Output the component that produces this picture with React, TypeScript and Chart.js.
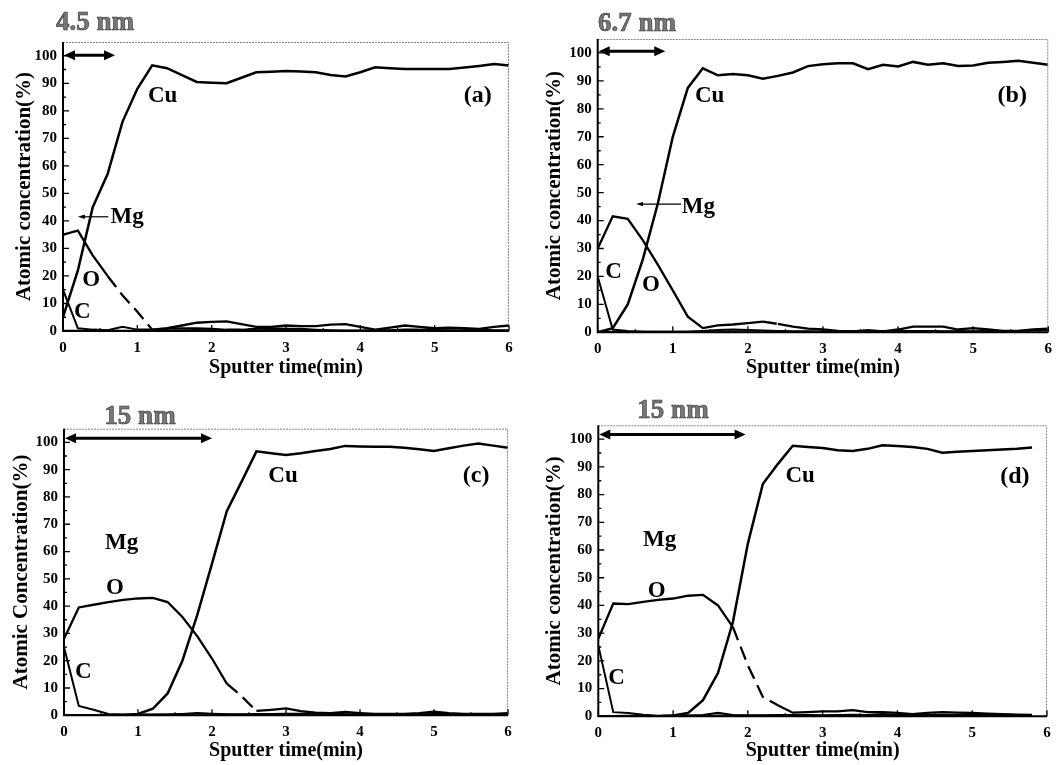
import React, { useEffect, useRef } from 'react';
import { Chart, registerables } from 'chart.js';

Chart.register(...registerables);

// Sputter time (min), sampled every 0.2 min
const TIMES = [0, 0.2, 0.4, 0.6, 0.8, 1.0, 1.2, 1.4, 1.6, 1.8, 2.0, 2.2, 2.4, 2.6, 2.8, 3.0,
  3.2, 3.4, 3.6, 3.8, 4.0, 4.2, 4.4, 4.6, 4.8, 5.0, 5.2, 5.4, 5.6, 5.8, 6.0];

// Panel (a) – 4.5 nm
const A_CU = [5, 22, 45, 57, 76, 88, 96.5, 95.5, 93, 90.5, 90.2, 90, 92, 94, 94.2, 94.5, 94.3, 94, 93, 92.5, 94, 95.8, 95.5, 95.2, 95.2, 95.2, 95.2, 95.7, 96.3, 97, 96.5];
const A_O = [35, 36.5, 27.5, 20, 13, 7, 0.5, 1, 2, 3, 3.3, 3.5, 2.5, 1.5, 1.5, 2, 1.8, 1.8, 2.3, 2.5, 1.5, 0.5, 1.2, 2, 1.5, 1, 1.2, 1, 0.8, 1.5, 2];
const A_C = [15, 1, 0.5, 0.3, 1.5, 0.5, 0.5, 0.8, 1, 1, 0.8, 0.5, 0.5, 0.8, 1, 0.8, 0.8, 0.5, 0.3, 0.2, 0.2, 0.3, 0.3, 0.5, 0.5, 0.8, 1, 0.8, 0.5, 0.3, 0.3];
const A_MG = [0.2, 0.2, 0.2, 0.3, 0.2, 0.2, 0.3, 0.3, 0.4, 0.5, 0.4, 0.3, 0.3, 0.4, 0.5, 0.5, 0.4, 0.3, 0.2, 0.2, 0.2, 0.3, 0.3, 0.4, 0.5, 0.5, 0.4, 0.3, 0.3, 0.2, 0.2];

// Panel (b) – 6.7 nm
const B_CU = [0, 1.5, 10, 26, 46, 70, 87.5, 94.5, 92, 92.5, 92, 90.8, 91.8, 93, 95.3, 96, 96.3, 96.3, 94.2, 95.8, 95.2, 96.8, 95.8, 96.3, 95.3, 95.5, 96.5, 96.8, 97.2, 96.5, 95.8];
const B_O = [30, 41.5, 40.6, 33, 24.2, 15, 5.6, 1.5, 2.5, 2.8, 3.3, 3.8, 3, 2, 1.3, 1, 0.5, 0.3, 0.8, 0.3, 1, 2, 2, 2, 1, 1.5, 1, 0.5, 0.5, 1, 1.3];
const B_C = [20, 1, 0.5, 0.3, 0.2, 0.2, 0.3, 0.5, 0.8, 1, 0.8, 0.6, 0.5, 0.4, 0.4, 0.3, 0.3, 0.4, 0.4, 0.5, 0.5, 0.5, 0.5, 0.4, 0.4, 0.4, 0.5, 0.5, 0.5, 0.8, 1];
const B_MG = [0.3, 0.3, 0.2, 0.2, 0.3, 0.3, 0.2, 0.3, 0.4, 0.4, 0.5, 0.5, 0.4, 0.3, 0.3, 0.2, 0.2, 0.3, 0.3, 0.4, 0.4, 0.3, 0.3, 0.3, 0.4, 0.4, 0.3, 0.3, 0.4, 0.5, 0.6];

// Panel (c) – 15 nm
const C_CU = [0, 0, 0, 0, 0, 0.5, 2.4, 8, 20, 36.7, 55.6, 74.8, 85.6, 96.7, 96, 95.4, 96, 96.8, 97.6, 98.7, 98.5, 98.4, 98.4, 98, 97.5, 96.8, 97.8, 98.8, 99.6, 98.8, 98];
const C_O = [28, 39.5, 40.5, 41.5, 42.3, 42.8, 43, 41.5, 36, 29, 20.8, 11.6, 7, 1.6, 2, 2.5, 1.5, 1, 0.8, 1.2, 0.8, 0.5, 0.5, 0.5, 0.8, 1.3, 0.8, 0.5, 0.5, 0.5, 0.8];
const C_C = [25, 3.4, 2, 0.5, 0.3, 0.3, 0.3, 0.3, 0.5, 0.8, 0.6, 0.4, 0.4, 0.5, 0.5, 0.6, 0.6, 0.8, 0.6, 0.4, 0.3, 0.3, 0.3, 0.4, 0.4, 0.5, 0.5, 0.4, 0.3, 0.3, 0.3];
const C_MG = [0.2, 0.2, 0.2, 0.2, 0.3, 0.3, 0.3, 0.4, 0.5, 0.6, 0.5, 0.4, 0.3, 0.3, 0.3, 0.3, 0.4, 0.5, 0.4, 0.3, 0.3, 0.2, 0.2, 0.3, 0.3, 0.3, 0.2, 0.2, 0.2, 0.3, 0.3];

// Panel (d) – 15 nm
const D_CU = [0, 0, 0, 0, 0, 0.3, 1.2, 5.8, 15.6, 34, 62.3, 83.8, 91, 97.6, 97.2, 96.8, 96, 95.7, 96.5, 97.8, 97.5, 97.2, 96.5, 95.1, 95.5, 95.7, 96, 96.3, 96.5, 97, null];
const D_O = [28, 40.7, 40.5, 41.3, 42, 42.5, 43.5, 43.8, 40, 32.2, 18.4, 7, 4, 1.3, 1.5, 1.8, 1.8, 2.2, 1.5, 1.5, 1.2, 0.8, 1.2, 1.5, 1.3, 1.2, 1, 0.8, 0.6, 0.5, null];
const D_C = [25.6, 1.5, 1.2, 0.6, 0.2, 0.3, 0.3, 0.5, 1.3, 0.5, 0.4, 0.4, 0.5, 0.5, 0.5, 0.4, 0.5, 0.6, 0.5, 0.8, 0.6, 0.5, 0.5, 0.6, 0.6, 0.8, 0.6, 0.5, 0.4, 0.4, null];
const D_MG = [0.2, 0.2, 0.3, 0.3, 0.2, 0.2, 0.3, 0.3, 0.4, 0.4, 0.3, 0.3, 0.4, 0.5, 0.4, 0.3, 0.3, 0.3, 0.4, 0.4, 0.3, 0.3, 0.3, 0.4, 0.4, 0.3, 0.3, 0.3, 0.2, 0.2, null];

const Y_MAJOR = [0, 10, 20, 30, 40, 50, 60, 70, 80, 90, 100];
const Y_MINOR = [5, 15, 25, 35, 45, 55, 65, 75, 85, 95];
const X_MAJOR = [0, 1, 2, 3, 4, 5, 6];
const X_MINOR = [0.5, 1.5, 2.5, 3.5, 4.5, 5.5];

const SERIF = '"Liberation Serif", "Times New Roman", serif';

type Label = { text: string; x: number; y: number; align?: CanvasTextAlign };
// dashIdx: data-index range [from, to] drawn dashed
type Series = { values: (number | null)[]; width: number; dashIdx?: [number, number] };
type PanelCfg = {
  pos: [number, number, number, number];
  area: { l: number; r: number; t: number; b: number };
  series: Series[];
  yTitle: string;
  yTitlePad: number;
  labels: Label[];
  tag: Label;
  span: { x0: number; x1: number; y: number };
  thick: { text: string; px: number; py: number; align: CanvasTextAlign };
  pointer?: { x0: number; x1: number; y: number };
};

const PANELS: PanelCfg[] = [
  {
    pos: [0, 0, 530, 382],
    area: { l: 63, r: 509, t: 42, b: 331 },
    series: [
      { values: A_CU, width: 2.5 },
      { values: A_O, width: 2.3, dashIdx: [3, 6] },
      { values: A_C, width: 2 },
      { values: A_MG, width: 1.3 },
    ],
    yTitle: 'Atomic concentration(%)',
    yTitlePad: 12,
    labels: [
      { text: 'Cu', x: 1.34, y: 85.3 },
      { text: 'Mg', x: 0.64, y: 41.5, align: 'left' },
      { text: 'O', x: 0.38, y: 18.5 },
      { text: 'C', x: 0.26, y: 7 },
    ],
    tag: { text: '(a)', x: 5.58, y: 85.3 },
    span: { x0: 0, x1: 0.7, y: 100.2 },
    thick: { text: '4.5 nm', px: 56, py: 30, align: 'left' },
    pointer: { x0: 0.61, x1: 0.2, y: 41.5 },
  },
  {
    pos: [530, 0, 530, 382],
    area: { l: 67.7, r: 521.7, t: 39, b: 332.3 },
    series: [
      { values: B_CU, width: 2.5 },
      { values: B_O, width: 2.3, dashIdx: [11, 12] },
      { values: B_C, width: 2 },
      { values: B_MG, width: 1.3 },
    ],
    yTitle: 'Atomic concentration(%)',
    yTitlePad: 12,
    labels: [
      { text: 'Cu', x: 1.49, y: 84.5 },
      { text: 'Mg', x: 1.12, y: 45, align: 'left' },
      { text: 'O', x: 0.71, y: 17 },
      { text: 'C', x: 0.21, y: 21.7 },
    ],
    tag: { text: '(b)', x: 5.52, y: 84.5 },
    span: { x0: 0, x1: 0.9, y: 100.6 },
    thick: { text: '6.7 nm', px: 68, py: 31, align: 'left' },
    pointer: { x0: 1.11, x1: 0.51, y: 45.9 },
  },
  {
    pos: [0, 382, 530, 383],
    area: { l: 64, r: 508, t: 46.7, b: 333.3 },
    series: [
      { values: C_CU, width: 2.5 },
      { values: C_O, width: 2.3, dashIdx: [11, 13] },
      { values: C_C, width: 2 },
      { values: C_MG, width: 1.3 },
    ],
    yTitle: 'Atomic Concentration(%)',
    yTitlePad: 9,
    labels: [
      { text: 'Cu', x: 2.96, y: 87.8 },
      { text: 'Mg', x: 0.78, y: 63.2 },
      { text: 'O', x: 0.69, y: 46.5 },
      { text: 'C', x: 0.26, y: 15.9 },
    ],
    tag: { text: '(c)', x: 5.57, y: 87.8 },
    span: { x0: 0, x1: 2.0, y: 101.5 },
    thick: { text: '15 nm', px: 140, py: 42, align: 'center' },
  },
  {
    pos: [530, 382, 530, 383],
    area: { l: 68.3, r: 517, t: 43.3, b: 334.3 },
    series: [
      { values: D_CU, width: 2.5 },
      { values: D_O, width: 2.3, dashIdx: [9, 12] },
      { values: D_C, width: 2 },
      { values: D_MG, width: 1.3 },
    ],
    yTitle: 'Atomic concentration(%)',
    yTitlePad: 12,
    labels: [
      { text: 'Cu', x: 2.7, y: 86.8 },
      { text: 'Mg', x: 0.82, y: 63.5 },
      { text: 'O', x: 0.78, y: 45.1 },
      { text: 'C', x: 0.245, y: 13.8 },
    ],
    tag: { text: '(d)', x: 5.57, y: 86.5 },
    span: { x0: 0, x1: 1.97, y: 101.7 },
    thick: { text: '15 nm', px: 143, py: 36, align: 'center' },
  },
];

function makeDeco(cfg: PanelCfg) {
  return {
    id: 'deco',
    afterDraw(chart: any) {
      const { ctx, chartArea: ca, scales } = chart;
      const xs = scales.x;
      const ys = scales.y;
      const X = (v: number) => xs.getPixelForValue(v);
      const Y = (v: number) => ys.getPixelForValue(v);
      ctx.save();

      // frame: top/right faint dotted, left/bottom solid
      ctx.strokeStyle = '#888';
      ctx.lineWidth = 1;
      ctx.setLineDash([2, 1]);
      ctx.beginPath();
      ctx.moveTo(ca.left, ca.top + 0.5);
      ctx.lineTo(ca.right - 0.5, ca.top + 0.5);
      ctx.lineTo(ca.right - 0.5, ca.bottom);
      ctx.stroke();
      ctx.setLineDash([]);
      ctx.strokeStyle = '#000';
      ctx.lineWidth = 2;
      ctx.beginPath();
      ctx.moveTo(ca.left, ca.top);
      ctx.lineTo(ca.left, ca.bottom);
      ctx.lineTo(ca.right, ca.bottom);
      ctx.stroke();

      // inward ticks
      ctx.lineWidth = 1.3;
      ctx.beginPath();
      Y_MAJOR.forEach((v) => { ctx.moveTo(ca.left, Y(v)); ctx.lineTo(ca.left + 6, Y(v)); });
      Y_MINOR.forEach((v) => { ctx.moveTo(ca.left, Y(v)); ctx.lineTo(ca.left + 3, Y(v)); });
      X_MAJOR.forEach((v) => { ctx.moveTo(X(v), ca.bottom); ctx.lineTo(X(v), ca.bottom - 6); });
      X_MINOR.forEach((v) => { ctx.moveTo(X(v), ca.bottom); ctx.lineTo(X(v), ca.bottom - 3); });
      ctx.stroke();

      // double arrow for layer thickness
      const ay = Y(cfg.span.y);
      const ax0 = X(cfg.span.x0) + 1;
      const ax1 = X(cfg.span.x1);
      const hl = 11;
      const hw = 5;
      ctx.lineWidth = 3;
      ctx.beginPath();
      ctx.moveTo(ax0 + hl - 2, ay);
      ctx.lineTo(ax1 - hl + 2, ay);
      ctx.stroke();
      ctx.fillStyle = '#000';
      ctx.beginPath();
      ctx.moveTo(ax0, ay);
      ctx.lineTo(ax0 + hl, ay - hw);
      ctx.lineTo(ax0 + hl, ay + hw);
      ctx.closePath();
      ctx.moveTo(ax1, ay);
      ctx.lineTo(ax1 - hl, ay - hw);
      ctx.lineTo(ax1 - hl, ay + hw);
      ctx.closePath();
      ctx.fill();

      // Mg pointer
      if (cfg.pointer) {
        const py = Y(cfg.pointer.y);
        const p0 = X(cfg.pointer.x0);
        const p1 = X(cfg.pointer.x1);
        ctx.lineWidth = 1.2;
        ctx.beginPath();
        ctx.moveTo(p0, py);
        ctx.lineTo(p1 + 5, py);
        ctx.stroke();
        ctx.beginPath();
        ctx.moveTo(p1, py);
        ctx.lineTo(p1 + 7, py - 2.2);
        ctx.lineTo(p1 + 7, py + 2.2);
        ctx.closePath();
        ctx.fill();
      }

      // element labels
      ctx.fillStyle = '#000';
      ctx.textBaseline = 'middle';
      ctx.font = `bold 23px ${SERIF}`;
      cfg.labels.forEach((l) => {
        ctx.textAlign = l.align || 'center';
        ctx.fillText(l.text, X(l.x), Y(l.y));
      });
      ctx.font = `bold 24px ${SERIF}`;
      ctx.textAlign = 'center';
      ctx.fillText(cfg.tag.text, X(cfg.tag.x), Y(cfg.tag.y));

      // thickness caption
      ctx.font = `bold 27px ${SERIF}`;
      ctx.textBaseline = 'alphabetic';
      ctx.textAlign = cfg.thick.align;
      ctx.fillStyle = '#777';
      ctx.strokeStyle = '#333';
      ctx.lineWidth = 0.6;
      ctx.fillText(cfg.thick.text, cfg.thick.px, cfg.thick.py);
      ctx.strokeText(cfg.thick.text, cfg.thick.px, cfg.thick.py);

      ctx.restore();
    },
  };
}

function Panel({ cfg }: { cfg: PanelCfg }) {
  const ref = useRef<HTMLCanvasElement>(null);
  useEffect(() => {
    if (!ref.current) return;
    const [, , W, H] = cfg.pos;
    const a = cfg.area;
    const chart = new Chart(ref.current, {
      type: 'line',
      data: {
        datasets: cfg.series.map((s) => ({
          data: TIMES.map((t, i) => ({ x: t, y: s.values[i] })),
          borderColor: '#000',
          borderWidth: s.width,
          pointRadius: 0,
          tension: 0,
          fill: false,
          spanGaps: false,
          segment: s.dashIdx
            ? {
                borderDash: (ctx: any) =>
                  ctx.p0DataIndex >= s.dashIdx![0] && ctx.p1DataIndex <= s.dashIdx![1] ? [14, 7] : [],
              }
            : undefined,
        })),
      },
      options: {
        responsive: false,
        animation: false,
        events: [],
        layout: { padding: { left: 0, top: a.t, right: W - a.r, bottom: 0 } },
        plugins: { legend: { display: false }, tooltip: { enabled: false } },
        scales: {
          x: {
            type: 'linear',
            min: 0,
            max: 6,
            grid: { display: false, drawTicks: false },
            border: { display: false },
            afterBuildTicks: (sc: any) => { sc.ticks = X_MAJOR.map((v) => ({ value: v })); },
            ticks: {
              padding: 8,
              color: '#000',
              font: { family: SERIF, size: 15, weight: 'bold' },
              maxRotation: 0,
            },
            title: {
              display: true,
              text: 'Sputter time(min)',
              color: '#000',
              font: { family: SERIF, size: 20, weight: 'bold' },
              padding: { top: 0, bottom: 2 },
            },
            afterFit: (sc: any) => { sc.height = H - a.b; },
          },
          y: {
            type: 'linear',
            min: 0,
            max: 105,
            grid: { display: false, drawTicks: false },
            border: { display: false },
            afterBuildTicks: (sc: any) => { sc.ticks = Y_MAJOR.map((v) => ({ value: v })); },
            ticks: {
              padding: 6,
              color: '#000',
              font: { family: SERIF, size: 15, weight: 'bold' },
            },
            title: {
              display: true,
              text: cfg.yTitle,
              color: '#000',
              font: { family: SERIF, size: 21, weight: 'bold' },
              padding: { top: cfg.yTitlePad, bottom: 0 },
            },
            afterFit: (sc: any) => { sc.width = a.l; },
          },
        },
      } as any,
      plugins: [makeDeco(cfg)],
    });
    return () => chart.destroy();
  }, [cfg]);
  const [left, top, W, H] = cfg.pos;
  return (
    <div style={{ position: 'absolute', left, top, width: W, height: H }}>
      <canvas ref={ref} width={W} height={H} style={{ display: 'block' }} />
    </div>
  );
}

export default function App() {
  return (
    <div style={{ position: 'fixed', left: 0, top: 0, width: 1060, height: 765, background: '#fff', overflow: 'hidden' }}>
      {PANELS.map((p, i) => (
        <Panel key={i} cfg={p} />
      ))}
    </div>
  );
}
